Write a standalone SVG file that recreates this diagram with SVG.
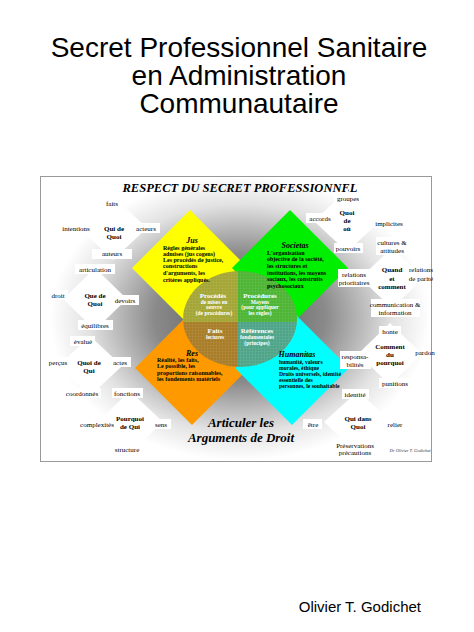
<svg xmlns="http://www.w3.org/2000/svg" width="474" height="632" viewBox="0 0 474 632">
<defs>
<radialGradient id="bg" gradientUnits="userSpaceOnUse" cx="240" cy="318" r="190" gradientTransform="translate(0 318) scale(1 0.75) translate(0 -318)">
<stop offset="0" stop-color="#5a5a5a"/>
<stop offset="0.45" stop-color="#8a8a8a"/>
<stop offset="0.8" stop-color="#e2e2e2"/>
<stop offset="1" stop-color="#ffffff"/>
</radialGradient>
<clipPath id="cclip"><ellipse cx="240" cy="319" rx="57" ry="48"/></clipPath>
<pattern id="grid" width="3" height="3" patternUnits="userSpaceOnUse">
<path d="M0 0.5 H3 M0.5 0 V3" stroke="#ffffff" stroke-width="0.5" opacity="0.12"/>
</pattern>
<style>
.title{font-family:"Liberation Sans",Arial,sans-serif;font-size:28px;text-anchor:middle;fill:#000}
.lbl{font-family:"Liberation Serif","Times New Roman",serif;font-size:7px;text-anchor:middle;fill:#000}
.nd{font-weight:bold}
.box{fill:#fff}
.dia{fill:#fff}
.ct{font-family:"Liberation Serif","Times New Roman",serif;font-size:6px;font-weight:bold;fill:#000}
.cts{font-size:5.7px}
.ch{font-family:"Liberation Serif","Times New Roman",serif;font-size:8px;font-weight:bold;font-style:italic;text-anchor:middle;fill:#000}
.wt{font-family:"Liberation Serif","Times New Roman",serif;font-size:5.5px;font-weight:bold;text-anchor:middle;fill:#fff}
.wh{font-size:7px}
.big{font-family:"Liberation Serif","Times New Roman",serif;font-weight:bold;font-style:italic;text-anchor:middle;fill:#000}
</style>
</defs>
<rect width="474" height="632" fill="#fff"/>
<g id="title">
<text class="title" x="239" y="57">Secret Professionnel Sanitaire</text>
<text class="title" x="239" y="85">en Administration</text>
<text class="title" x="239" y="113">Communautaire</text>
</g>
<text id="author" x="421" y="612" font-family="Liberation Sans, Arial, sans-serif" font-size="15" text-anchor="end">Olivier T. Godichet</text>

<g id="frame">
<rect x="40.5" y="176.5" width="391" height="285" fill="url(#bg)" stroke="#999" stroke-width="1"/>
<text class="big" x="240" y="191.5" font-size="12.5" textLength="235" lengthAdjust="spacingAndGlyphs">RESPECT DU SECRET PROFESSIONNEL</text>
</g>

<g id="quadrants">
<path id="jus-shape" d="M190 210 L248 268 L190 326 L132 268 Z" fill="#ffff00"/>
<path id="res-shape" d="M192 311 L249 368 L192 425 L135 368 Z" fill="#ff9900"/>
<path id="soc-shape" d="M290 210 L348 268 L290 326 L232 268 Z" fill="#00ee00"/>
<path id="hum-shape" d="M292 311 L349 368 L292 425 L235 368 Z" fill="#00ffff"/>
<g id="center" clip-path="url(#cclip)">
<rect x="180" y="268" width="58" height="54" fill="#a3a534"/>
<rect x="238" y="268" width="62" height="54" fill="#4db434"/>
<rect x="180" y="322" width="58" height="50" fill="#a97d28"/>
<rect x="238" y="322" width="62" height="50" fill="#4ea488"/>
<rect x="180" y="268" width="120" height="104" fill="url(#grid)"/>
</g>
</g>

<g id="jus">
<text class="ch" x="192" y="243">Jus</text>
<text class="ct" x="163" y="250">Règles générales</text>
<text class="ct" x="163" y="256">admises (jus cogens)</text>
<text class="ct" x="163" y="262">Les procédés de justice,</text>
<text class="ct" x="163" y="268">constructions</text>
<text class="ct" x="163" y="275">d'arguments, les</text>
<text class="ct" x="163" y="282">critères appliqués.</text>
</g>
<g id="societas">
<text class="ch" x="295" y="248">Societas</text>
<text class="ct" x="267" y="255">L'organisation</text>
<text class="ct" x="267" y="261">objective de la société,</text>
<text class="ct" x="267" y="268">les structures et</text>
<text class="ct" x="267" y="275">institutions, les moyens</text>
<text class="ct" x="267" y="281">sociaux, les construits</text>
<text class="ct" x="267" y="288">psychosociaux</text>
</g>
<g id="res">
<text class="ch" x="192" y="356">Res</text>
<text class="ct" x="157" y="362">Réalité, les faits,</text>
<text class="ct" x="157" y="368">Le possible, les</text>
<text class="ct" x="157" y="375">proportions raisonnables,</text>
<text class="ct" x="157" y="381">les fondements matériels</text>
</g>
<g id="humanitas">
<text class="ch" x="297" y="357">Humanitas</text>
<text class="ct cts" x="279" y="364">humanité, valeurs</text>
<text class="ct cts" x="279" y="370">morales, éthique</text>
<text class="ct cts" x="279" y="376">Droits universels, identité</text>
<text class="ct cts" x="279" y="382">essentielle des</text>
<text class="ct cts" x="279" y="388">personnes, le souhaitable</text>
</g>
<g id="center-texts">
<text class="wt wh" x="213" y="298">Procédés</text>
<text class="wt" x="214" y="303.5">de mises en</text>
<text class="wt" x="214" y="309">oeuvre</text>
<text class="wt" x="214" y="314.5">(de procédures)</text>
<text class="wt wh" x="260" y="298">Procédures</text>
<text class="wt" x="260" y="303.5">Moyens</text>
<text class="wt" x="260" y="309">(pour appliquer</text>
<text class="wt" x="260" y="314.5">les règles)</text>
<text class="wt wh" x="215" y="333">Faits</text>
<text class="wt" x="215" y="339">lectures</text>
<text class="wt wh" x="257" y="333">Références</text>
<text class="wt" x="257" y="339">fondamentales</text>
<text class="wt" x="257" y="345">(principes)</text>
</g>

<g id="n-qui-de-quoi">
<path class="dia" d="M113 196 L147 228 L113 260 L79 228 Z"/>
<rect class="box" x="102" y="198" width="21" height="10"/><text class="lbl" x="112" y="205.5">faits</text>
<rect class="box" x="59" y="223" width="35" height="10"/><text class="lbl" x="76" y="230.5">intentions</text>
<rect class="box" x="133" y="223" width="27" height="10"/><text class="lbl" x="146" y="230.5">acteurs</text>
<rect class="box" x="92" y="249" width="40" height="10"/><text class="lbl" x="112" y="256">auteurs</text>
<text class="lbl nd" x="114" y="230.5">Qui de</text>
<text class="lbl nd" x="114" y="238.5">Quoi</text>
</g>
<g id="n-que-de-quoi">
<path class="dia" d="M95 268 L127 299 L95 330 L63 299 Z"/>
<rect class="box" x="48" y="290" width="20" height="10"/><text class="lbl" x="58" y="297.5">droit</text>
<rect class="box" x="112" y="295" width="27" height="10"/><text class="lbl" x="125" y="302.5">devoirs</text>
<rect class="box" x="78" y="320" width="35" height="10"/><text class="lbl" x="95" y="327.5">équilibres</text>
<text class="lbl nd" x="95" y="297.5">Que de</text>
<text class="lbl nd" x="95" y="305.5">Quoi</text>
</g>
<g id="n-quoi-de-qui">
<path class="dia" d="M90 336 L122 366 L90 396 L58 366 Z"/>
<rect class="box" x="46" y="357" width="24" height="10"/><text class="lbl" x="58" y="364.5">perçus</text>
<rect class="box" x="109" y="357" width="22" height="10"/><text class="lbl" x="120" y="364.5">actes</text>
<text class="lbl nd" x="89" y="364.5">Quoi de</text>
<text class="lbl nd" x="89" y="372.5">Qui</text>
</g>
<g id="n-pourquoi-de-qui">
<path class="dia" d="M130 391 L163 422 L130 453 L97 422 Z"/>
<rect class="box" x="112" y="388" width="31" height="10"/><text class="lbl" x="127" y="395.5">fonctions</text>
<rect class="box" x="78" y="419" width="38" height="10"/><text class="lbl" x="97" y="426.5">complexités</text>
<rect class="box" x="152" y="419" width="19" height="10"/><text class="lbl" x="161" y="426.5">sens</text>
<rect class="box" x="110" y="444" width="35" height="10"/><text class="lbl" x="127" y="451.5">structure</text>
<text class="lbl nd" x="130" y="420.5">Pourquoi</text>
<text class="lbl nd" x="130" y="429">de Qui</text>
</g>

<g id="n-quoi-de-ou">
<path class="dia" d="M347 190 L380 221 L347 252 L314 221 Z"/>
<rect class="box" x="334" y="193" width="28" height="10"/><text class="lbl" x="348" y="200.5">groupes</text>
<rect class="box" x="306" y="213" width="28" height="10"/><text class="lbl" x="320" y="220.5">accords</text>
<rect class="box" x="373" y="218" width="33" height="10"/><text class="lbl" x="389" y="225.5">implicites</text>
<rect class="box" x="334" y="243" width="29" height="10"/><text class="lbl" x="348" y="250.5">pouvoirs</text>
<text class="lbl nd" x="347" y="215">Quoi</text>
<text class="lbl nd" x="347" y="222.5">de</text>
<text class="lbl nd" x="347" y="230.5">où</text>
</g>
<g id="n-quand-et-comment">
<path class="dia" d="M392 248 L424 278 L392 308 L360 278 Z"/>
<rect class="box" x="376" y="237" width="33" height="18"/><text class="lbl" x="392" y="245">cultures &amp;</text><text class="lbl" x="392" y="253">attitudes</text>
<rect class="box" x="338" y="269" width="34" height="18"/><text class="lbl" x="354" y="277">relations</text><text class="lbl" x="354" y="285">prioritaires</text>
<text class="lbl" x="421" y="272">relations</text><text class="lbl" x="421" y="281">de parité</text>
<text class="lbl nd" x="392" y="272">Quand</text>
<text class="lbl nd" x="392" y="280.5">et</text>
<text class="lbl nd" x="392" y="288.5">comment</text>
</g>
<g id="n-comment-du-pourquoi">
<path class="dia" d="M390 323 L422 354 L390 385 L358 354 Z"/>
<rect class="box" x="379" y="326" width="22" height="10"/><text class="lbl" x="390" y="333.5">honte</text>
<rect class="box" x="340" y="351" width="31" height="18"/><text class="lbl" x="355" y="359">responsa-</text><text class="lbl" x="355" y="367">bilités</text>
<text class="lbl" x="425" y="354.5">pardon</text>
<text class="lbl nd" x="390" y="348.5">Comment</text>
<text class="lbl nd" x="390" y="356.5">du</text>
<text class="lbl nd" x="390" y="364.5">pourquoi</text>
</g>
<g id="n-qui-dans-quoi">
<path class="dia" d="M358 391 L392 422 L358 453 L324 422 Z"/>
<rect class="box" x="342" y="389" width="27" height="10"/><text class="lbl" x="355" y="396.5">identité</text>
<rect class="box" x="303" y="419" width="19" height="10"/><text class="lbl" x="313" y="426.5">être</text>
<rect class="box" x="385" y="419" width="21" height="10"/><text class="lbl" x="395" y="426.5">relier</text>
<text class="lbl" x="355" y="447.5">Préservations</text>
<text class="lbl" x="355" y="455">précautions</text>
<text class="lbl nd" x="358" y="420.5">Qui dans</text>
<text class="lbl nd" x="358" y="429">Quoi</text>
</g>

<g id="free-labels">
<rect class="box" x="75" y="264" width="40" height="10"/><text class="lbl" x="95" y="271.5">articulation</text>
<rect class="box" x="70" y="336" width="25" height="10"/><text class="lbl" x="83" y="343.5">évalué</text>
<rect class="box" x="64" y="388" width="37" height="10"/><text class="lbl" x="82" y="395.5">coordonnés</text>
<rect class="box" x="371" y="299" width="49" height="18"/><text class="lbl" x="395" y="307">communication &amp;</text><text class="lbl" x="395" y="315">information</text>
<rect class="box" x="379" y="378" width="32" height="10"/><text class="lbl" x="395" y="385.5">punitions</text>
<text x="410" y="452" font-family="Liberation Serif, serif" font-size="4.5" font-style="italic" text-anchor="middle" fill="#333">Dr Olivier T. Godichet</text>
</g>

<g id="footer">
<text class="big" x="241" y="427" font-size="13">Articuler les</text>
<text class="big" x="241" y="442" font-size="13">Arguments de Droit</text>
</g>
<g id="connectors"></g>
</svg>
